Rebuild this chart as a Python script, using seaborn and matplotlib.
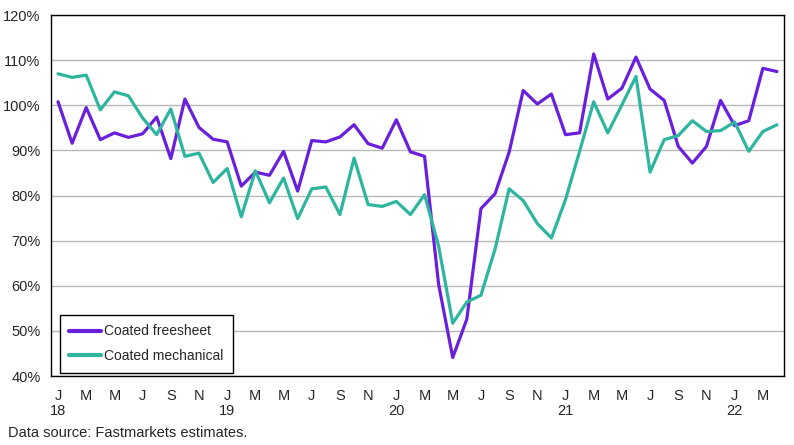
import seaborn as sns
import pandas as pd
import matplotlib.pyplot as plt
from matplotlib.ticker import FixedLocator, FuncFormatter

# monthly index values, Jan 2018 - Apr 2022 (%)
freesheet = [100.8, 91.6, 99.5, 92.4, 93.9, 92.9, 93.7, 97.4, 88.2, 101.4, 95.1, 92.5,
             91.9, 82.1, 85.2, 84.5, 89.8, 81.0, 92.2, 91.9, 93.0, 95.7, 91.5, 90.5,
             96.8, 89.7, 88.7, 60.3, 44.1, 52.6, 77.1, 80.4, 89.6, 103.3, 100.3, 102.5,
             93.5, 93.9, 111.4, 101.4, 103.8, 110.7, 103.6, 101.1, 90.9, 87.2, 90.9, 101.1,
             95.5, 96.6, 108.2, 107.5]
mechanical = [107.0, 106.2, 106.7, 99.0, 103.0, 102.1, 97.2, 93.5, 99.2, 88.7, 89.4, 82.9,
              86.0, 75.3, 85.5, 78.4, 83.9, 74.9, 81.5, 81.9, 75.8, 88.3, 78.0, 77.6,
              78.7, 75.8, 80.2, 68.8, 51.7, 56.4, 57.9, 68.1, 81.5, 78.9, 73.8, 70.6,
              79.1, 89.8, 100.8, 93.9, 100.1, 106.4, 85.2, 92.4, 93.3, 96.6, 94.2, 94.4,
              96.3, 89.8, 94.2, 95.7]
month_letters = ['J', 'F', 'M', 'A', 'M', 'J', 'J', 'A', 'S', 'O', 'N', 'D']
series_names = ['Coated freesheet', 'Coated mechanical']
colors = ['#6a1fdc', '#2db59f']

n = len(freesheet)
df = pd.DataFrame({'month': list(range(n)), series_names[0]: freesheet, series_names[1]: mechanical})
df_long = df.melt(id_vars='month', var_name='series', value_name='value')

sns.set_style('white')
plt.rcParams['font.family'] = ['Liberation Sans', 'DejaVu Sans']

fig = plt.figure(figsize=(7.94, 4.45), dpi=100)
ax = fig.add_axes([0.0642, 0.155, 0.9232, 0.811])

sns.lineplot(data=df_long, x='month', y='value', hue='series', palette=colors,
             linewidth=2.3, ax=ax)

ax.set_xlim(-0.5, n - 0.5)
ax.set_ylim(40, 120)
ax.set_yticks(range(40, 121, 10))
ax.yaxis.set_major_formatter(FuncFormatter(lambda v, p: f'{int(v)}%'))
ax.grid(axis='y', color='#b8b8b8', linewidth=1)
ax.set_axisbelow(True)

# month boundary ticks, labels every second month at centres
ax.xaxis.set_major_locator(FixedLocator([i - 0.5 for i in range(n + 1)]))
ax.xaxis.set_major_formatter(FuncFormatter(lambda v, p: ''))
label_pos = list(range(0, n, 2))
labels = []
for i in label_pos:
    lab = month_letters[i % 12]
    if i % 12 == 0:
        lab += '\n' + str(18 + i // 12)
    labels.append(lab)
ax.set_xticks(label_pos, minor=True)
ax.set_xticklabels(labels, minor=True)
ax.tick_params(axis='x', which='major', length=4, width=1, color='black', direction='out')
ax.tick_params(axis='x', which='minor', length=0, pad=9, labelsize=10.5)
ax.tick_params(axis='y', length=4, width=1, color='black', direction='out', labelsize=10.5)
for lab in ax.get_xticklabels(minor=True):
    lab.set_linespacing(1.1)

for s in ax.spines.values():
    s.set_color('black')
    s.set_linewidth(1)

ax.set_xlabel('')
ax.set_ylabel('')

leg = ax.legend(loc='lower left', bbox_to_anchor=(0.007, 0.0), borderaxespad=0.25, fontsize=10,
                frameon=True, fancybox=False, edgecolor='black', framealpha=1,
                handlelength=2.3, borderpad=0.7, labelspacing=0.75, handletextpad=0.2)
leg.get_frame().set_linewidth(1)
for line in leg.get_lines():
    line.set_linewidth(3)

fig.text(0.01, 0.012, 'Data source: Fastmarkets estimates.', fontsize=10.5, ha='left', va='bottom')

fig.savefig('out.png', dpi=100)
